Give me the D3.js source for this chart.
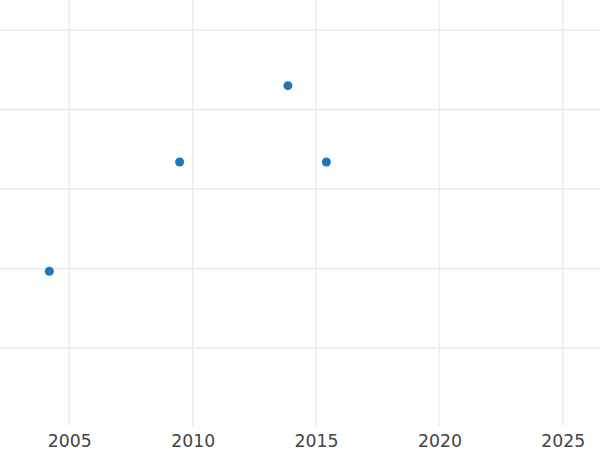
<!DOCTYPE html>
<html><head><meta charset="utf-8">
<script src="https://cdn.jsdelivr.net/npm/d3@7"></script>
<style>html,body{margin:0;padding:0;background:#fff;}svg{display:block;}</style>
</head><body>
<script>
const years = [2004.19, 2009.47, 2013.86, 2015.42];
const values = [1.965, 3.34, 4.30, 3.34];
const xTicks = [2005, 2010, 2015, 2020, 2025];
const yTicks = [1, 2, 3, 4, 5];

const W = 600, H = 450, plotBottom = 426;
const svg = d3.select("body").append("svg").attr("width", W).attr("height", H);
const x = d3.scaleLinear().domain([2002.19, 2026.51]).range([0, W]);
const y = d3.scaleLinear().domain([0.019, 5.377]).range([plotBottom, 0]);

const grid = svg.append("g").attr("stroke", "#ebebeb").attr("stroke-width", 1.4);
grid.selectAll("line.v").data(xTicks).join("line").attr("class","v")
  .attr("x1", d => x(d)).attr("x2", d => x(d)).attr("y1", 0).attr("y2", plotBottom);
grid.selectAll("line.h").data(yTicks).join("line").attr("class","h")
  .attr("x1", 0).attr("x2", W).attr("y1", d => y(d)).attr("y2", d => y(d));

const xAxis = d3.axisBottom(x).tickValues(xTicks).tickFormat(d3.format("d")).tickSize(0).tickPadding(0);
const ax = svg.append("g").attr("transform", `translate(0,${plotBottom})`).call(xAxis);
ax.select(".domain").remove();
ax.selectAll("text").attr("font-family", "DejaVu Sans").attr("font-size", "17.3px")
  .attr("fill", "#444").attr("dy", null).attr("y", 20.7);

svg.append("g").selectAll("circle").data(years).join("circle")
  .attr("cx", d => x(d)).attr("cy", (d, i) => y(values[i])).attr("r", 4.5).attr("fill", "#1f77b4");
</script>
</body></html>
